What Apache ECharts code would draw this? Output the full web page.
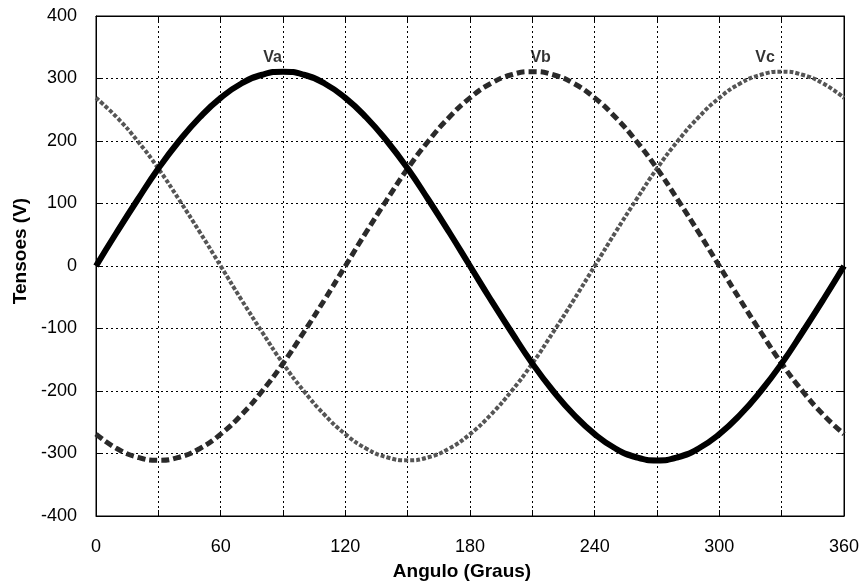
<!DOCTYPE html>
<html>
<head>
<meta charset="utf-8">
<script src="https://cdn.jsdelivr.net/npm/echarts@6/dist/echarts.min.js"></script>
<style>
  html, body { margin: 0; padding: 0; background: #fff; }
  #chart { width: 864px; height: 581px; }
</style>
</head>
<body>
<div id="chart"></div>
<script>
// angles every 10 degrees
const angles = [0,10,20,30,40,50,60,70,80,90,100,110,120,130,140,150,160,170,180,
  190,200,210,220,230,240,250,260,270,280,290,300,310,320,330,340,350,360]
const va = [0,54,106,156,200,238,269,292,306,311,306,292,269,238,200,156,106,54,0,
  -54,-106,-156,-200,-238,-269,-292,-306,-311,-306,-292,-269,-238,-200,-156,-106,-54,0]
const vb = [-269,-292,-306,-311,-306,-292,-269,-238,-200,-156,-106,-54,0,54,106,156,200,238,269,
  292,306,311,306,292,269,238,200,156,106,54,0,-54,-106,-156,-200,-238,-269]
const vc = [269,238,200,156,106,54,0,-54,-106,-156,-200,-238,-269,-292,-306,-311,-306,-292,-269,
  -238,-200,-156,-106,-54,0,54,106,156,200,238,269,292,306,311,306,292,269]
const curveNames = ['Va', 'Vb', 'Vc']
const labelAngles = [85, 214, 322]
const labelValues = [334, 334, 334]

const pairs = ys => angles.map((a, i) => [a, ys[i]])
const font = 'Liberation Sans, Arial, sans-serif'
const gridLine = { show: true, lineStyle: { color: '#000', type: [2, 3], width: 1 } }

const chart = echarts.init(document.getElementById('chart'))
chart.setOption({
  animation: false,
  grid: { left: 96, right: 20, top: 16, bottom: 65, show: true, borderColor: '#000', borderWidth: 1,
    containLabel: false, outerBoundsMode: 'none' },
  xAxis: [{
    type: 'value', min: 0, max: 360, interval: 30,
    name: 'Angulo (Graus)', nameLocation: 'middle', nameGap: 46,
    nameTextStyle: { fontFamily: font, fontSize: 19, fontWeight: 'bold', color: '#000',
      padding: [0, 16, 0, 0] },
    axisLine: { onZero: false, lineStyle: { color: '#000', width: 1 } },
    axisTick: { inside: true, length: 6, lineStyle: { color: '#000' } },
    axisLabel: { fontFamily: font, fontSize: 18, color: '#000', margin: 22,
      formatter: v => (v % 60 === 0 ? String(v) : '') },
    splitLine: gridLine
  }, {
    type: 'value', min: 0, max: 360, interval: 30, position: 'top',
    axisLine: { onZero: false, lineStyle: { color: '#000' } },
    axisTick: { inside: true, length: 6, lineStyle: { color: '#000' } },
    axisLabel: { show: false }, splitLine: { show: false }
  }],
  yAxis: [{
    type: 'value', min: -400, max: 400, interval: 100,
    name: 'Tensoes (V)', nameLocation: 'middle', nameGap: 65,
    nameTextStyle: { fontFamily: font, fontSize: 19, fontWeight: 'bold', color: '#000',
      padding: [0, 0, 0, 30] },
    axisLine: { show: true, onZero: false, lineStyle: { color: '#000', width: 1 } },
    axisTick: { inside: true, length: 6, lineStyle: { color: '#000' } },
    axisLabel: { fontFamily: font, fontSize: 18, color: '#000', margin: 19 },
    splitLine: gridLine
  }, {
    type: 'value', min: -400, max: 400, interval: 100, position: 'right',
    axisLine: { show: true, onZero: false, lineStyle: { color: '#000' } },
    axisTick: { inside: true, length: 6, lineStyle: { color: '#000' } },
    axisLabel: { show: false }, splitLine: { show: false }
  }],
  series: [
    {
      name: 'Vc', type: 'line', smooth: true, symbol: 'none', data: pairs(vc),
      lineStyle: { color: '#555', width: 4, type: [4, 2] }
    },
    {
      name: 'Vb', type: 'line', smooth: true, symbol: 'none', data: pairs(vb),
      lineStyle: { color: '#2a2a2a', width: 5, type: [8, 4] }
    },
    {
      name: 'Va', type: 'line', smooth: true, symbol: 'none', data: pairs(va),
      lineStyle: { color: '#000', width: 6 }
    },
    {
      type: 'scatter', symbolSize: 0, silent: true,
      data: curveNames.map((n, i) => ({ name: n, value: [labelAngles[i], labelValues[i]] })),
      label: { show: true, position: 'inside', formatter: p => p.name,
        fontFamily: font, fontSize: 16, fontWeight: 'bold', color: '#000' }
    }
  ]
})
</script>
</body>
</html>
